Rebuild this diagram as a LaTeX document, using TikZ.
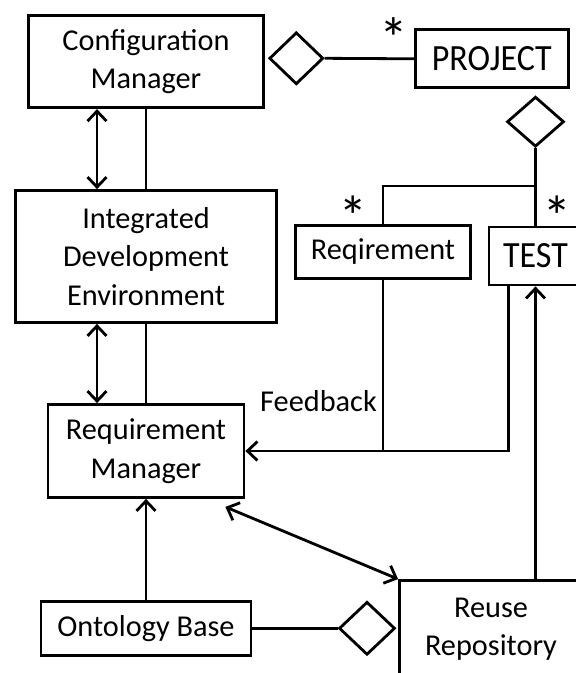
\documentclass[tikz,border=0pt]{standalone}
\usepackage{fontspec}
\setmainfont{Carlito}
\newfontfamily\labtall[FakeStretch=0.92]{Carlito}
\usetikzlibrary{arrows.meta,shapes.geometric}
% an enlarged asterisk whose box fits the glyph tightly
\newcommand{\tightstar}{\raisebox{-21pt}[17pt][0pt]{\scalebox{1.9}{*}}}
\begin{document}
\begin{tikzpicture}[x=1pt,y=-1pt,
  box/.style={draw,line width=2.8pt,align=center,inner sep=0pt,
              font=\fontsize{30.3}{38.5}\selectfont},
  bigbox/.style={box,font=\labtall\fontsize{37}{38.5}\selectfont},
  agg/.style={draw,diamond,line width=2.8pt,inner sep=0pt},
  conn/.style={line width=2.8pt},
  barb/.tip={Straight Barb[length=10pt,width=19pt,line width=2.8pt]},
  tip/.style={conn,-barb},
  dbl/.style={conn,barb-barb},
  lbl/.style={inner sep=0pt,font=\fontsize{30.3}{38.5}\selectfont},
  mult/.style={inner sep=0pt,font=\fontsize{30.3}{30.3}\selectfont},
  multlow/.style={mult,rotate=180}]
\clip (0,0) rectangle (576,673);
\useasboundingbox (0,0) rectangle (576,673);

% classes
\node[box,minimum width=235pt,minimum height=92pt] (cm) at (146,61.7) {Configuration\\Manager};
\node[bigbox,minimum width=153pt,minimum height=58pt] (proj) at (491.8,58.8) {PROJECT};
\node[box,minimum width=261pt,minimum height=132pt] (ide) at (146,256.5) {Integrated\\Development\\Environment};
\node[box,minimum width=175pt,minimum height=53pt] (req) at (383,252) {Reqirement};
\node[bigbox,minimum width=93pt,minimum height=58pt] (test) at (535.5,256) {TEST};
\node[box,minimum width=196pt,minimum height=93pt] (rm) at (146,451) {Requirement\\Manager};
\node[box,minimum width=210pt,minimum height=54pt] (ont) at (146,628.3) {Ontology Base};
\node[box,minimum width=183pt,minimum height=97pt] (rr) at (491,629) {Reuse\\Repository};

% aggregation diamonds
\node[agg,minimum width=54pt,minimum height=52pt] (dA) at (296.3,58.3) {};
\node[agg,minimum width=57pt,minimum height=50pt] (dB) at (535.5,121.7) {};
\node[agg,minimum width=56pt,minimum height=53pt] (dC) at (367,628.3) {};

% multiplicities and label
\node[mult] (m1) at (393.5,29) {\tightstar};
\node[multlow] (m2) at (353,202) {\tightstar};
\node[multlow] (m3) at (557.5,202) {\tightstar};
\node[lbl,anchor=base east] (fb) at (377,411) {Feedback};

\coordinate (j) at (535.5,186);
\coordinate (fy) at (0,450.7);

% connectors
\draw[conn] (dA.east) -- (proj.west);
\draw[conn] (dB.south) -- (test.north);
\draw[conn] (j) -| (req.north);
\draw[dbl] ([xshift=-49pt]cm.south) -- ([xshift=-49pt]ide.north);
\draw[conn] (cm.south) -- (ide.north);
\draw[dbl] ([xshift=-49pt]ide.south) -- ([xshift=-49pt]rm.north);
\draw[conn] (ide.south) -- (rm.north);
\draw[conn] (req.south) -- (req.south |- fy);
\draw[tip] ([xshift=-27pt]test.south) |- (rm.east);
\draw[tip] (test.south |- rr.north) -- (test.south);
\draw[tip] (ont.north) -- (rm.south);
\draw[dbl] ([shift={(-20,8)}]rm.south east) -- (rr.north west);
\draw[conn] (ont.east) -- (dC.west);
\end{tikzpicture}
\end{document}
